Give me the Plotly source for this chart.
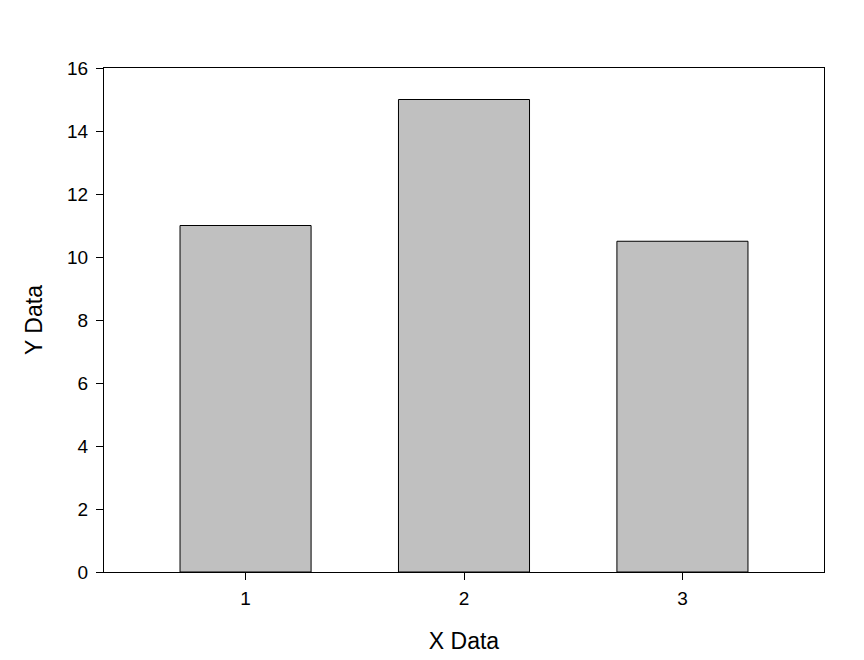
import plotly.graph_objects as go

categories = [1, 2, 3]
values = [11, 15, 10.5]
y_ticks = [0, 2, 4, 6, 8, 10, 12, 14, 16]

fig = go.Figure(go.Bar(
    x=categories, y=values, width=0.6,
    marker=dict(color="#c0c0c0", line=dict(color="black", width=1)),
))

font = "Liberation Sans, Arial, sans-serif"
fig.update_layout(
    width=864, height=660,
    margin=dict(l=96, r=48, t=60, b=96),
    plot_bgcolor="white", paper_bgcolor="white",
    showlegend=False,
    font=dict(family=font, color="black", size=19),
)
fig.update_xaxes(
    range=[0.352, 3.648], tickvals=categories, ticktext=[str(c) for c in categories],
    ticks="outside", ticklen=7, tickcolor="black", tickwidth=1,
    showline=True, linecolor="black", linewidth=1, mirror=True,
    showgrid=False, zeroline=False, ticklabelstandoff=2,
    title=dict(text="X Data", font=dict(size=23), standoff=25),
    tickfont=dict(size=19),
)
fig.update_yaxes(
    range=[0, 16], tickvals=y_ticks,
    ticks="outside", ticklen=7, tickcolor="black", tickwidth=1,
    showline=True, linecolor="black", linewidth=1, mirror=True,
    showgrid=False, zeroline=False, ticklabelstandoff=4,
    title=dict(text="Y Data", font=dict(size=23), standoff=18),
    tickfont=dict(size=19),
)
fig.write_html("out.html")
